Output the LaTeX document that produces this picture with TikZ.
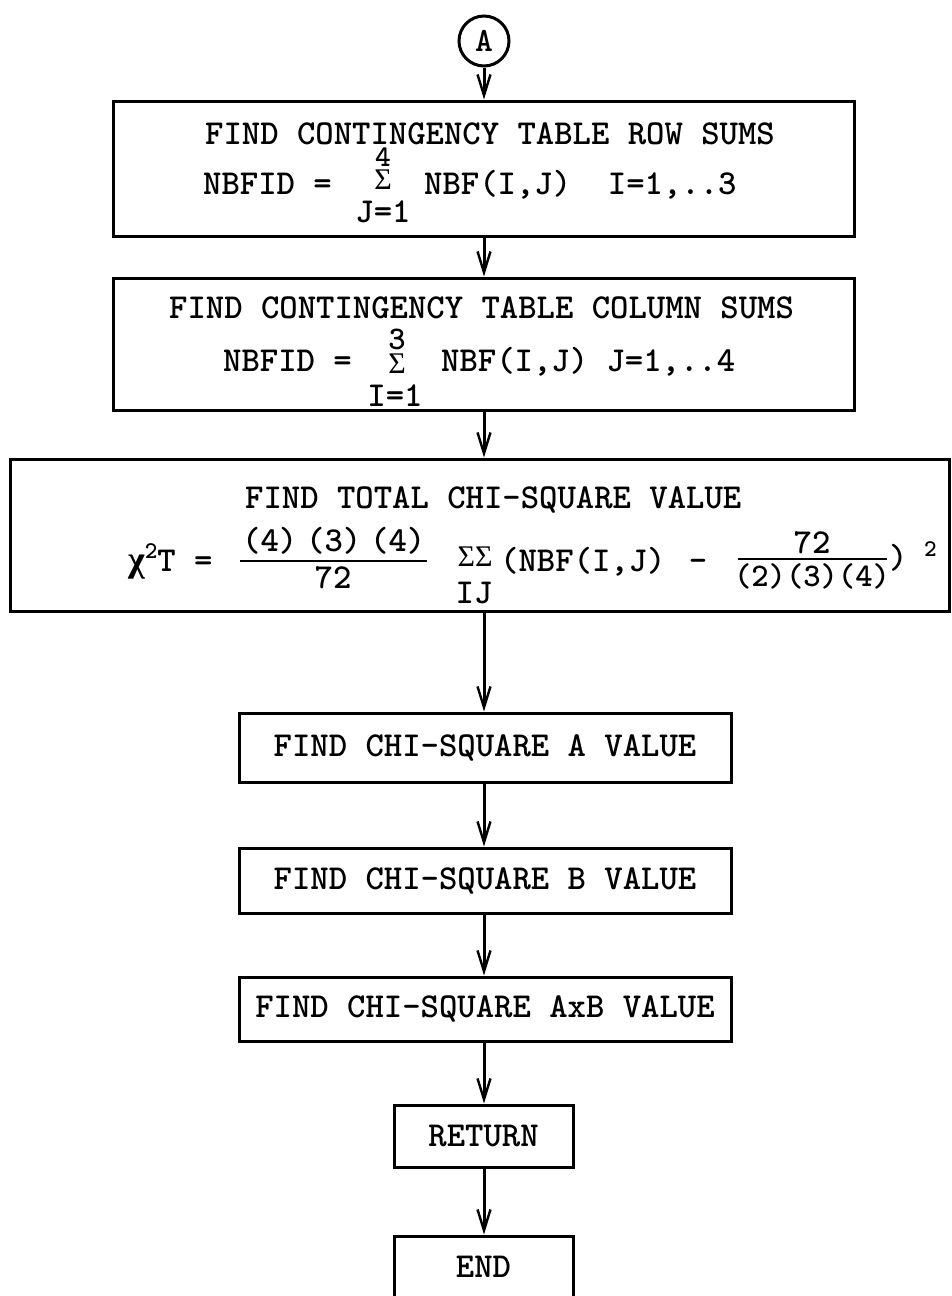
\documentclass[tikz,border=0pt]{standalone}
\usepackage{fontspec}
\usetikzlibrary{arrows.meta}
\newfontfamily\gk{Liberation Serif}
\newcommand\tf{\fontsize{35}{42}\selectfont\ttfamily\bfseries}
\newcommand\tfs{\fontsize{33}{38}\selectfont\ttfamily\bfseries}
\newcommand\tfl{\fontsize{30}{36}\selectfont\ttfamily\bfseries}
\newcommand\supf{\fontsize{24}{24}\selectfont\ttfamily\bfseries}
\begin{document}
\begin{tikzpicture}[x=1pt,y=-1pt,
  box/.style={draw, line width=3pt, inner sep=0pt, font=\tf},
  t/.style={inner sep=0pt, font=\tf, anchor=base west},
  tc/.style={inner sep=0pt, font=\tf, anchor=base},
  sigma/.style={inner sep=0pt, font=\gk\fontsize{30}{30}\selectfont, anchor=center},
  rule/.style={line width=2.4pt},
  arr/.style={line width=3pt, -{Straight Barb[length=21pt,width=13pt,line width=2.4pt]}}]
\useasboundingbox (0,0) rectangle (951,1296);

% connector circle
\node[draw, circle, line width=3pt, minimum size=50pt, inner sep=0pt,
      font=\fontsize{34}{34}\selectfont\ttfamily\bfseries] (c) at (484,41) {A};

% boxes
\node[box, minimum width=741pt, minimum height=135pt] (b1) at (483.5,168.5) {};
\node[box, minimum width=741pt, minimum height=132pt] (b2) at (483.5,344) {};
\node[box, minimum width=939pt, minimum height=152pt] (b3) at (479.5,535) {};
\node[box, minimum width=492pt, minimum height=69pt] (b4) at (485,747.5) {FIND CHI-SQUARE A VALUE};
\node[box, minimum width=492pt, minimum height=65pt] (b5) at (485,880.5) {FIND CHI-SQUARE B VALUE};
\node[box, minimum width=492pt, minimum height=64pt] (b6) at (485,1009) {FIND CHI-SQUARE AxB VALUE};
\node[box, minimum width=179pt, minimum height=62pt] (b7) at (483.5,1136) {RETURN};
\node[box, minimum width=179pt, minimum height=62pt] (b8) at (483.5,1267) {END};

% box 1 text
\node[t] (b1l1) at (205,144) {FIND CONTINGENCY TABLE ROW SUMS};
\node[t] (b1l2) at (203,194) {NBFID =};
\node[tc, font=\tfl] (b1up) at (383,166) {4};
\node[sigma] (b1sig) at (383,180) {Σ};
\node[tc] (b1lo) at (383,222) {J=1};
\node[t] (b1r) at (424,194) {NBF(I,J)\ \ I=1,..3};

% box 2 text
\node[t] (b2l1) at (169,318) {FIND CONTINGENCY TABLE COLUMN SUMS};
\node[t] (b2l2) at (223,371) {NBFID =};
\node[tc, font=\tfs] (b2up) at (397,349) {3};
\node[sigma] (b2sig) at (397,364) {Σ};
\node[tc] (b2lo) at (395,406) {I=1};
\node[t] (b2r) at (441,371) {NBF(I,J) J=1,..4};

% box 3 text
\node[t] (b3l1) at (245,508) {FIND TOTAL CHI-SQUARE VALUE};
\node[t] (chi) at (128,571) {{\gk\fontsize{36}{36}\selectfont χ}\raisebox{13pt}{\supf 2}T =};
\node[t] (n1) at (242,551) {(4)};
\node[t] (n2) at (306,551) {(3)};
\node[t] (n3) at (370,551) {(4)};
\draw[rule] (240,561) -- (427,561);
\node[tc] (d1) at (333,588) {72};
\node[sigma] (ss) at (475,557) {ΣΣ};
\node[tc] (ij) at (474,603) {IJ};
\node[t] (nbf) at (500,571) {(NBF(I,J)};
\node[tc] (minus) at (698,571) {-};
\node[tc] (n4) at (812,553) {72};
\draw[rule] (738,559) -- (887,559);
\node[tc, font=\tfs] (d2) at (812,586) {(2)(3)(4)};
\node[t] (cp) at (889,568) {)};
\node[t, font=\supf] (sq) at (924,556) {2};

% connectors
\draw[arr] (c.south) -- (b1.north -| c);
\draw[arr] (b1.south -| c) -- (b2.north -| c);
\draw[arr] (b2.south -| c) -- (b3.north -| c);
\draw[arr] (b3.south -| c) -- (b4.north -| c);
\draw[arr] (b4.south -| c) -- (b5.north -| c);
\draw[arr] (b5.south -| c) -- (b6.north -| c);
\draw[arr] (b6.south -| c) -- (b7.north -| c);
\draw[arr] (b7.south -| c) -- (b8.north -| c);
\end{tikzpicture}
\end{document}
